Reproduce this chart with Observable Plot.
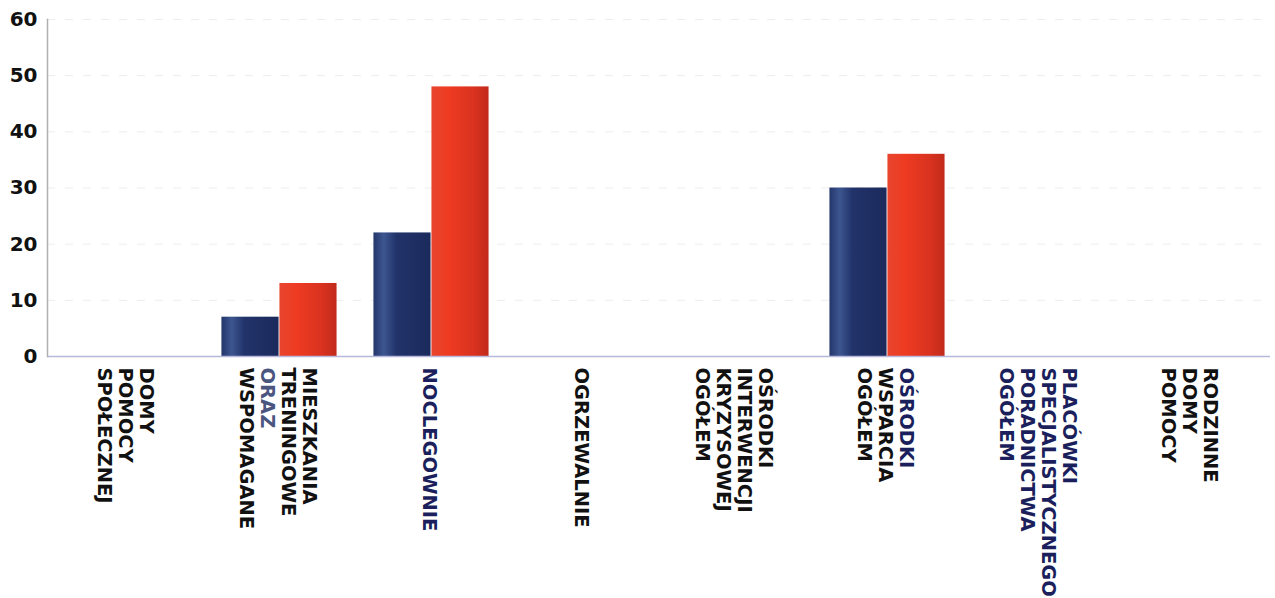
<!DOCTYPE html>
<html>
<head>
<meta charset="utf-8">
<script src="https://cdn.jsdelivr.net/npm/d3@7"></script>
<script src="https://cdn.jsdelivr.net/npm/@observablehq/plot@0.6"></script>
<style>
  html, body { margin: 0; padding: 0; background: #fff; }
</style>
</head>
<body>
<div id="chart"></div>
<script>
const categories = [
  "DOMY POMOCY SPOŁECZNEJ",
  "MIESZKANIA TRENINGOWE ORAZ WSPOMAGANE",
  "NOCLEGOWNIE",
  "OGRZEWALNIE",
  "OŚRODKI INTERWENCJI KRYZYSOWEJ OGÓŁEM",
  "OŚRODKI WSPARCIA OGÓŁEM",
  "PLACÓWKI SPECJALISTYCZNEGO PORADNICTWA OGÓŁEM",
  "RODZINNE DOMY POMOCY"
];
const labelLines = [
  ["DOMY", "POMOCY", "SPOŁECZNEJ"],
  ["MIESZKANIA", "TRENINGOWE", "ORAZ", "WSPOMAGANE"],
  ["NOCLEGOWNIE"],
  ["OGRZEWALNIE"],
  ["OŚRODKI", "INTERWENCJI", "KRYZYSOWEJ", "OGÓŁEM"],
  ["OŚRODKI", "WSPARCIA", "OGÓŁEM"],
  ["PLACÓWKI", "SPECJALISTYCZNEGO", "PORADNICTWA", "OGÓŁEM"],
  ["RODZINNE", "DOMY", "POMOCY"]
];
const labelColors = [
  ["#111", "#111", "#111"],
  ["#111", "#111", "#4a5580", "#111"],
  ["#1b1f5c"],
  ["#111"],
  ["#111", "#111", "#111", "#111"],
  ["#1b1f5c", "#111", "#111"],
  ["#1b1f5c", "#1b1f5c", "#1b1f5c", "#1b1f5c"],
  ["#111", "#111", "#111"]
];
const seriesBlue = [0, 7, 22, 0, 0, 30, 0, 0];
const seriesRed = [0, 13, 48, 0, 0, 36, 0, 0];
const yTicks = [0, 10, 20, 30, 40, 50, 60];

const blueData = categories.map((c, i) => ({cat: c, value: seriesBlue[i]})).filter(d => d.value > 0);
const redData = categories.map((c, i) => ({cat: c, value: seriesRed[i]})).filter(d => d.value > 0);

const lineHeight = 21;
const rows = [];
labelLines.forEach((lines, ci) => {
  lines.forEach((t, li) => {
    rows.push({cat: categories[ci], text: t, color: labelColors[ci][li],
      off: ((lines.length - 1) / 2 - li) * lineHeight - 2});
  });
});
const groups = d3.groups(rows, r => r.off);

const W = 1275, H = 598;
const bandW = (W - 47 - 5) / categories.length;
const barW = 58;
const outer = (bandW - 2 * barW) / 2;

const chart = Plot.plot({
  width: W,
  height: H,
  marginLeft: 47,
  marginRight: 5,
  marginTop: 19,
  marginBottom: H - 356,
  style: {fontFamily: "'DejaVu Sans', sans-serif", background: "#fff", overflow: "visible"},
  x: {domain: categories, padding: 0, axis: null},
  y: {domain: [0, 60], ticks: yTicks},
  marks: [
    Plot.gridY(yTicks.filter(d => d > 0), {stroke: "#d8d8d8", strokeOpacity: 0.45, strokeDasharray: "8,10"}),
    Plot.axisY(yTicks, {tickSize: 0, tickPadding: 10, fontSize: 20, fontWeight: "bold", fill: "#111", label: null}),
    Plot.barY(blueData, {x: "cat", y: "value", fill: "url(#gradBlue)", insetLeft: outer, insetRight: outer + barW}),
    Plot.barY(redData, {x: "cat", y: "value", fill: "url(#gradRed)", insetLeft: outer + barW, insetRight: outer}),
    Plot.ruleY([0], {stroke: "#b8b8dc", strokeWidth: 1.5}),
    Plot.frame({anchor: "left", stroke: "#b0b0b0", strokeWidth: 1.5}),
    ...groups.map(([off, rs]) => Plot.text(rs, {
      x: "cat", text: "text", fill: "color", frameAnchor: "bottom",
      rotate: 90, textAnchor: "start", lineAnchor: "middle",
      dx: off, dy: 11, fontSize: 19.5, fontWeight: "bold"
    }))
  ]
});

const defs = d3.select(chart).insert("defs", ":first-child");
const gb = defs.append("linearGradient").attr("id", "gradBlue").attr("x1", 0).attr("x2", 1).attr("y1", 0).attr("y2", 0);
gb.append("stop").attr("offset", "0%").attr("stop-color", "#24366b");
gb.append("stop").attr("offset", "18%").attr("stop-color", "#3d5690");
gb.append("stop").attr("offset", "40%").attr("stop-color", "#22336a");
gb.append("stop").attr("offset", "100%").attr("stop-color", "#1b2a5c");
const gr = defs.append("linearGradient").attr("id", "gradRed").attr("x1", 0).attr("x2", 1).attr("y1", 0).attr("y2", 0);
gr.append("stop").attr("offset", "0%").attr("stop-color", "#e8452f");
gr.append("stop").attr("offset", "30%").attr("stop-color", "#ee3b22");
gr.append("stop").attr("offset", "75%").attr("stop-color", "#d8321f");
gr.append("stop").attr("offset", "100%").attr("stop-color", "#c22a1a");

document.getElementById("chart").append(chart);
</script>
</body>
</html>
